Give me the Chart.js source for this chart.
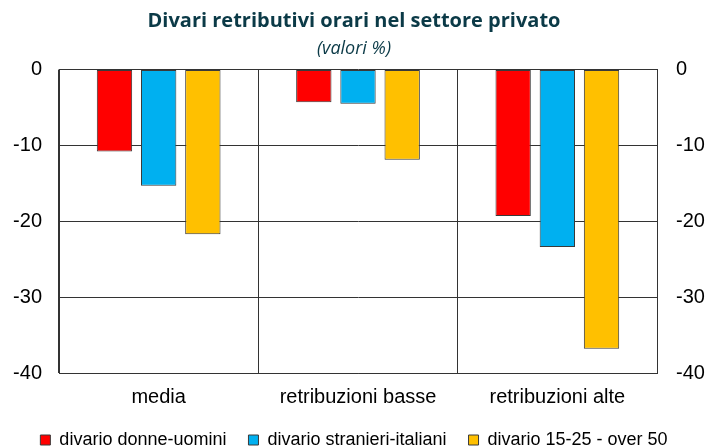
<!DOCTYPE html>
<html>
<head>
<meta charset="utf-8">
<script src="https://cdn.jsdelivr.net/npm/chart.js@4"></script>
<style>
  body { margin: 0; background: #fff; }
  #wrap { width: 708px; height: 448px; }
</style>
</head>
<body>
<div id="wrap"><canvas id="divariChart"></canvas></div>
<script>
// categorie e serie (valori %)
var categorie = ['media', 'retribuzioni basse', 'retribuzioni alte'];
var donneUomini = [-10.8, -4.3, -19.3];
var stranieriItaliani = [-15.3, -4.5, -23.4];
var giovaniOver50 = [-21.7, -11.9, -36.8];
var serieNomi = ['divario donne-uomini', 'divario stranieri-italiani', 'divario 15-25 - over 50'];

var arial = 'Liberation Sans, Arial, sans-serif';
var tickFont = { family: arial, size: 20 };

document.addEventListener('DOMContentLoaded', function() {
    var data = {
        labels: categorie,
        datasets: [{
            label: serieNomi[0],
            data: donneUomini,
            backgroundColor: '#ff0000',
            borderColor: '#3a3a3a',
            borderWidth: 1
        }, {
            label: serieNomi[1],
            data: stranieriItaliani,
            backgroundColor: '#00b0f0',
            borderColor: '#3a3a3a',
            borderWidth: 1
        }, {
            label: serieNomi[2],
            data: giovaniOver50,
            backgroundColor: '#ffc000',
            borderColor: '#3a3a3a',
            borderWidth: 1
        }]
    };

    new Chart(document.getElementById('divariChart'), {
        type: 'bar',
        data: data,
        options: {
            responsive: true,
            maintainAspectRatio: false,
            animation: false,
            datasets: {
                bar: { categoryPercentage: 0.665, barPercentage: 0.8, borderSkipped: false }
            },
            layout: { padding: { top: 0, bottom: 0 } },
            plugins: {
                title: {
                    display: true,
                    text: 'Divari retributivi orari nel settore privato',
                    color: '#0b3a47',
                    font: { family: 'Open Sans, sans-serif', size: 20, weight: 'bold', lineHeight: 1.2 },
                    padding: { top: 9, bottom: 5 }
                },
                subtitle: {
                    display: true,
                    text: '(valori %)',
                    color: '#0b3a47',
                    font: { family: 'Open Sans, sans-serif', size: 18, style: 'italic', lineHeight: 1.2 },
                    padding: { top: 0, bottom: 10 }
                },
                legend: {
                    position: 'bottom',
                    maxHeight: 39,
                    labels: {
                        boxWidth: 10,
                        boxHeight: 10,
                        padding: 22,
                        color: '#000',
                        font: { family: arial, size: 18 }
                    }
                },
                tooltip: { enabled: false }
            },
            scales: {
                x: {
                    grid: { color: '#333', lineWidth: 1, drawTicks: false, offset: true },
                    border: { color: '#333' },
                    ticks: { color: '#000', font: { family: arial, size: 20 }, padding: 12 },
                    afterFit: function(scale) { scale.height = 36; }
                },
                y: {
                    position: 'left',
                    min: -40,
                    max: 0,
                    ticks: { stepSize: 10, color: '#000', font: tickFont, padding: 17 },
                    grid: { color: '#333', lineWidth: 1, drawTicks: false },
                    border: { color: '#333' },
                    afterFit: function(scale) { scale.width = 59; }
                },
                y2: {
                    position: 'right',
                    min: -40,
                    max: 0,
                    ticks: { stepSize: 10, color: '#000', font: tickFont, padding: 19 },
                    grid: { display: false, drawTicks: false },
                    border: { color: '#333' },
                    afterFit: function(scale) { scale.width = 51; }
                }
            }
        }
    });
});
</script>
</body>
</html>
